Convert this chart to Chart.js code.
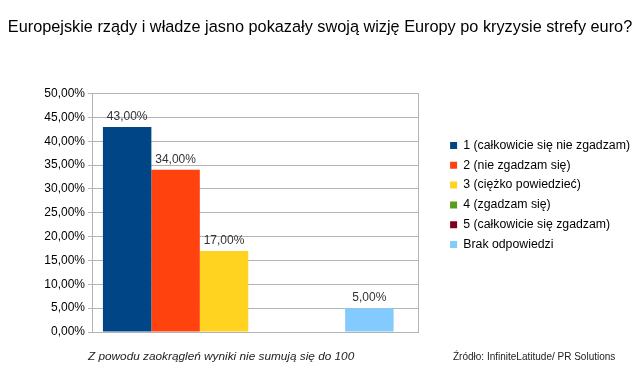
<!DOCTYPE html>
<html>
<head>
<meta charset="utf-8">
<script src="https://cdn.jsdelivr.net/npm/chart.js@4"></script>
<style>
  html, body { margin: 0; padding: 0; background: #fff; }
  #wrap { width: 640px; height: 386px; }
</style>
</head>
<body>
<div id="wrap"><canvas id="myChart"></canvas></div>
<script>
var titleText = "Europejskie rządy i władze jasno pokazały swoją wizję Europy po kryzysie strefy euro?";
var seriesNames = [
  "1 (całkowicie się nie zgadzam)",
  "2 (nie zgadzam się)",
  "3 (ciężko powiedzieć)",
  "4 (zgadzam się)",
  "5 (całkowicie się zgadzam)",
  "Brak odpowiedzi"
];
var seriesValues = [43, 34, 17, 0, 0, 5];
var barColors = ["#004586", "#ff420e", "#ffd320", "#579d1c", "#7e0021", "#83caff"];
var yTicks = [0, 5, 10, 15, 20, 25, 30, 35, 40, 45, 50];
var noteText = "Z powodu zaokrągleń wyniki nie sumują się do 100";
var sourceText = "Źródło: InfiniteLatitude/ PR Solutions";

function pct(v) {
  return v.toFixed(2).replace(".", ",") + "%";
}

Chart.defaults.font.family = "'Liberation Sans', Arial, sans-serif";
Chart.defaults.font.size = 12;
Chart.defaults.color = "#000";

// one group of bars, sitting a little left of the wall centre like the original
var datasets = seriesNames.map(function (name, i) {
  return {
    label: name,
    data: [{ x: 0, y: seriesValues[i] }],
    backgroundColor: barColors[i],
    borderWidth: 0,
    categoryPercentage: 0.89,
    barPercentage: 1.0
  };
});

var extras = {
  id: "extras",
  afterDatasetsDraw: function (chart) {
    var ctx = chart.ctx;
    ctx.save();
    // value labels
    ctx.fillStyle = "#333";
    ctx.font = "12px 'Liberation Sans', Arial, sans-serif";
    ctx.textAlign = "center";
    ctx.textBaseline = "bottom";
    chart.data.datasets.forEach(function (ds, i) {
      var v = ds.data[0].y;
      if (!v) return;
      var bar = chart.getDatasetMeta(i).data[0];
      ctx.fillText(pct(v), bar.x, bar.y - 4);
    });
    // footnotes
    ctx.fillStyle = "#222";
    ctx.textBaseline = "middle";
    ctx.textAlign = "left";
    ctx.font = "italic 11.8px 'Liberation Sans', Arial, sans-serif";
    ctx.fillText(noteText, 88, 357);
    ctx.font = "10px 'Liberation Sans Narrow', 'Liberation Sans', Arial, sans-serif";
    ctx.fillText(sourceText, 453, 357);
    ctx.restore();
  }
};

new Chart("myChart", {
  type: "bar",
  data: {
    datasets: datasets
  },
  plugins: [extras],
  options: {
    responsive: true,
    maintainAspectRatio: false,
    animation: false,
    layout: { padding: { left: 0, right: 0, bottom: 0, top: 4 } },
    plugins: {
      title: {
        display: true,
        text: titleText,
        color: "#000",
        font: { size: 16.3, weight: "normal" },
        padding: { top: 14, bottom: 56 }
      },
      legend: {
        display: true,
        position: "right",
        align: "center",
        maxWidth: 260,
        labels: {
          boxWidth: 7,
          boxHeight: 7,
          padding: 7.5,
          color: "#000",
          font: { size: 12.3 }
        }
      },
      tooltip: { enabled: false }
    },
    scales: {
      x: {
        type: "linear",
        min: -0.5,
        max: 0.545,
        offset: false,
        afterBuildTicks: function (axis) {
          axis.ticks = [{ value: axis.min }, { value: axis.max }];
        },
        grid: { display: false },
        border: { display: true, color: "#b3b3b3" },
        ticks: { display: false },
        afterFit: function (axis) { axis.height = 54; }
      },
      y: {
        min: 0,
        max: 50,
        afterBuildTicks: function (axis) {
          axis.ticks = yTicks.map(function (v) { return { value: v }; });
        },
        afterFit: function (axis) { axis.width = 92; },
        ticks: {
          padding: 3,
          color: "#000",
          callback: function (v) { return pct(v); }
        },
        grid: { color: "#b3b3b3", tickLength: 4 },
        border: { color: "#b3b3b3" }
      },
      wall: {
        type: "linear",
        position: "right",
        display: true,
        grid: { display: false },
        ticks: { display: false },
        border: { display: true, color: "#b3b3b3" },
        afterFit: function (axis) { axis.width = 24; }
      }
    }
  }
});
</script>
</body>
</html>
